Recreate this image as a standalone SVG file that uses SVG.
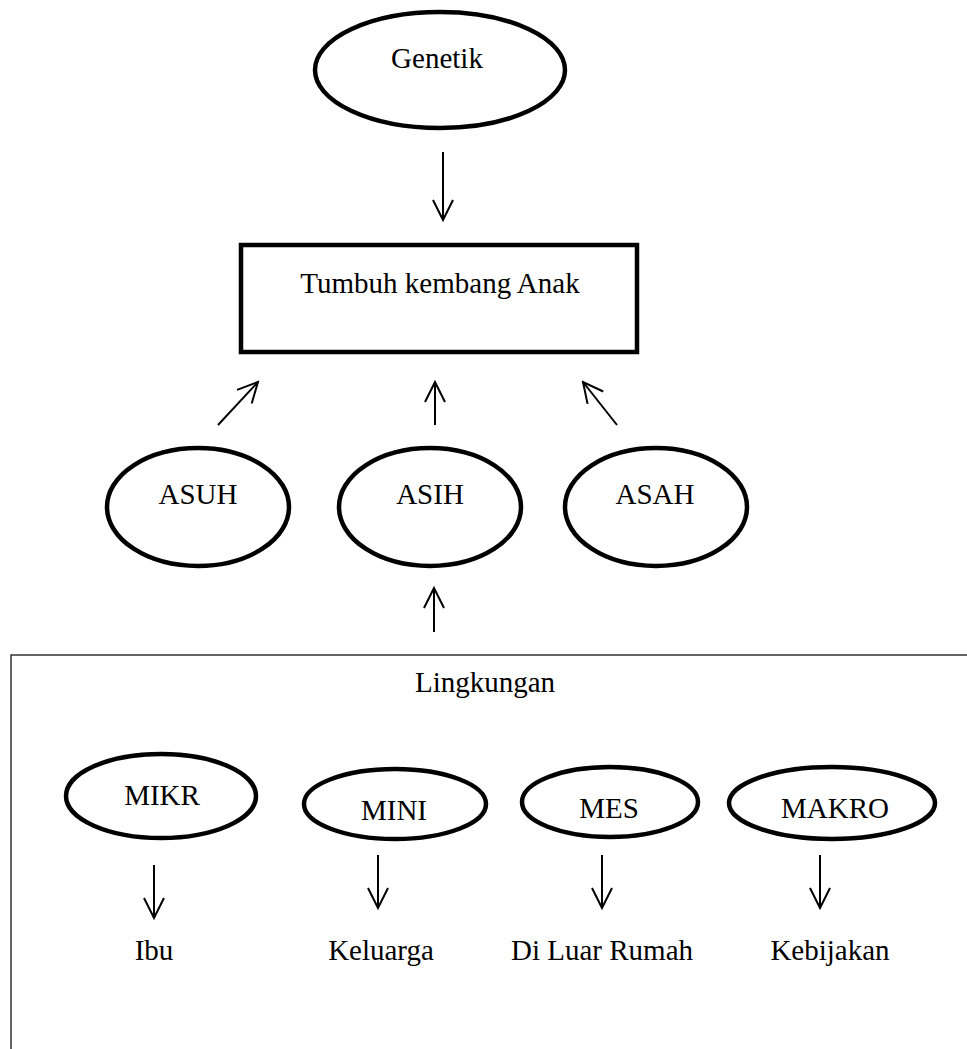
<svg xmlns="http://www.w3.org/2000/svg" width="967" height="1049" viewBox="0 0 967 1049">
<style>
.node{fill:#fff;stroke:#000;stroke-width:4.5}
.t{font-family:"Liberation Serif","Times New Roman",serif;font-size:29px;fill:#000;text-anchor:middle}
.c{stroke:#000;stroke-width:2;fill:none}
</style>
<defs>
<marker id="arr" markerUnits="userSpaceOnUse" markerWidth="24" markerHeight="24" viewBox="-2 -12 24 24" refX="20" refY="0" orient="auto">
<path d="M0,-10 L20,0 L0,10" fill="none" stroke="#000" stroke-width="2"/>
</marker>
</defs>
<rect width="967" height="1049" fill="#fff"/>
<g id="lingkungan">
<rect x="11" y="655" width="1000" height="500" fill="none" stroke="#333" stroke-width="1.5"/>
<text class="t" x="485" y="692">Lingkungan</text>
</g>
<g id="genetik">
<ellipse class="node" cx="440" cy="70" rx="125" ry="58"/>
<text class="t" x="437" y="68">Genetik</text>
</g>
<g id="tumbuh">
<rect class="node" x="241" y="245" width="396" height="107"/>
<text class="t" x="440" y="293">Tumbuh kembang Anak</text>
</g>
<g id="asuh">
<ellipse class="node" cx="198" cy="507" rx="91" ry="59"/>
<text class="t" x="198" y="504">ASUH</text>
</g>
<g id="asih">
<ellipse class="node" cx="430" cy="507" rx="91" ry="59"/>
<text class="t" x="430" y="504">ASIH</text>
</g>
<g id="asah">
<ellipse class="node" cx="656" cy="507" rx="91" ry="59"/>
<text class="t" x="655" y="504">ASAH</text>
</g>
<g id="mikr">
<ellipse class="node" cx="161" cy="796" rx="95" ry="42"/>
<text class="t" x="162" y="805">MIKR</text>
</g>
<g id="mini">
<ellipse class="node" cx="395" cy="804" rx="91" ry="35"/>
<text class="t" x="394" y="820">MINI</text>
</g>
<g id="mes">
<ellipse class="node" cx="610" cy="802" rx="88" ry="35"/>
<text class="t" x="609" y="818">MES</text>
</g>
<g id="makro">
<ellipse class="node" cx="832" cy="803" rx="103" ry="36"/>
<text class="t" x="835" y="818">MAKRO</text>
</g>
<g id="ibu"><text class="t" x="154" y="960">Ibu</text></g>
<g id="keluarga"><text class="t" x="381" y="960">Keluarga</text></g>
<g id="diluar"><text class="t" x="602" y="960">Di Luar Rumah</text></g>
<g id="kebijakan"><text class="t" x="830" y="960">Kebijakan</text></g>
<g id="connectors">
<line class="c" x1="443" y1="152" x2="443" y2="220" marker-end="url(#arr)"/>
<line class="c" x1="218" y1="425" x2="258" y2="382" marker-end="url(#arr)"/>
<line class="c" x1="435" y1="425" x2="435" y2="382" marker-end="url(#arr)"/>
<line class="c" x1="617" y1="425" x2="583" y2="382" marker-end="url(#arr)"/>
<line class="c" x1="434" y1="632" x2="434" y2="588" marker-end="url(#arr)"/>
<line class="c" x1="154" y1="865" x2="154" y2="918" marker-end="url(#arr)"/>
<line class="c" x1="378" y1="855" x2="378" y2="908" marker-end="url(#arr)"/>
<line class="c" x1="602" y1="855" x2="602" y2="908" marker-end="url(#arr)"/>
<line class="c" x1="820" y1="855" x2="820" y2="908" marker-end="url(#arr)"/>
</g>
</svg>
